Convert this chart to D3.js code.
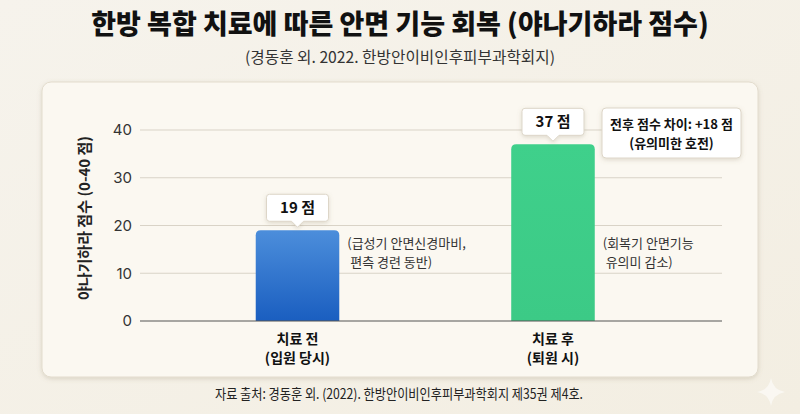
<!DOCTYPE html>
<html>
<head>
<meta charset="utf-8">
<script src="https://cdn.jsdelivr.net/npm/d3@7"></script>
<style>
  html, body { margin: 0; padding: 0; }
  body { width: 800px; height: 414px; overflow: hidden; font-family: "Noto Sans CJK KR", "Noto Sans", sans-serif; }
</style>
</head>
<body>
<div id="chart"></div>
<script>
// data
const categories = ["치료 전", "치료 후"];
const subLabels = ["(입원 당시)", "(퇴원 시)"];
const scores = [19, 37];
const valueLabels = ["19 점", "37 점"];
const notes = [["(급성기 안면신경마비,", " 편측 경련 동반)"], ["(회복기 안면기능", " 유의미 감소)"]];
const yTicks = [0, 10, 20, 30, 40];
const diffNote = ["전후 점수 차이: +18 점", "(유의미한 호전)"];

const W = 800, H = 414;
const svg = d3.select("#chart").append("svg").attr("width", W).attr("height", H);
const defs = svg.append("defs");

// background
const bg = defs.append("linearGradient").attr("id", "bg").attr("x1", 0).attr("y1", 0).attr("x2", 1).attr("y2", 1);
bg.append("stop").attr("offset", "0%").attr("stop-color", "#f6f3ec");
bg.append("stop").attr("offset", "100%").attr("stop-color", "#f3eee2");
svg.append("rect").attr("width", W).attr("height", H).attr("fill", "url(#bg)");

const blue = defs.append("linearGradient").attr("id", "blue").attr("x1", 0).attr("y1", 0).attr("x2", 0).attr("y2", 1);
blue.append("stop").attr("offset", "0%").attr("stop-color", "#4c8edb");
blue.append("stop").attr("offset", "100%").attr("stop-color", "#1a5ec0");
const green = defs.append("linearGradient").attr("id", "green").attr("x1", 0).attr("y1", 0).attr("x2", 0).attr("y2", 1);
green.append("stop").attr("offset", "0%").attr("stop-color", "#3fd08b");
green.append("stop").attr("offset", "100%").attr("stop-color", "#3cca86");

const shadow = defs.append("filter").attr("id", "shadow").attr("x", "-10%").attr("y", "-10%").attr("width", "120%").attr("height", "130%");
shadow.append("feDropShadow").attr("dx", 0).attr("dy", 1.5).attr("stdDeviation", 2).attr("flood-color", "#8a7a5a").attr("flood-opacity", 0.25);

// title
svg.append("text").attr("x", 400).attr("y", 34).attr("text-anchor", "middle")
  .attr("font-size", 27).attr("font-weight", 800).attr("fill", "#111")
  .text("한방 복합 치료에 따른 안면 기능 회복 (야나기하라 점수)");
svg.append("text").attr("x", 400).attr("y", 63).attr("text-anchor", "middle")
  .attr("font-size", 15.5).attr("fill", "#333")
  .attr("textLength", 310).attr("lengthAdjust", "spacingAndGlyphs")
  .text("(경동훈 외. 2022. 한방안이비인후피부과학회지)");

// panel
svg.append("rect").attr("x", 42).attr("y", 82).attr("width", 716).attr("height", 295).attr("rx", 9)
  .attr("fill", "#fbf8f1").attr("stroke", "#e3dccd").attr("stroke-width", 1).attr("filter", "url(#shadow)");

// scales
const y = d3.scaleLinear().domain([0, 40]).range([321, 130]);
const x = d3.scaleBand().domain(categories).range([140, 710.5]).paddingInner(0.673).paddingOuter(0.453);

const g = svg.append("g");

// grid
g.selectAll(".grid").data(yTicks.filter(d => d > 0)).join("line")
  .attr("x1", 140).attr("x2", 722)
  .attr("y1", d => y(d)).attr("y2", d => y(d))
  .attr("stroke", "#d9d3c7").attr("stroke-width", 1);

// y axis
const yAxis = g.append("g").attr("transform", "translate(140,0)")
  .call(d3.axisLeft(y).tickValues(yTicks).tickSize(0).tickPadding(8));
yAxis.select(".domain").remove();
yAxis.selectAll("text").attr("font-size", 15).attr("fill", "#333").attr("font-family", "Inter, 'Noto Sans', sans-serif");

svg.append("text").attr("transform", "translate(90,218) rotate(-90)").attr("text-anchor", "middle")
  .attr("font-size", 15).attr("font-weight", 600).attr("fill", "#222")
  .text("야나기하라 점수 (0-40 점)");

// bars with rounded top
function barPath(d, i) {
  const x0 = x(categories[i]), w = x.bandwidth(), y0 = y(d), y1 = y(0), r = 5;
  return `M${x0},${y1}V${y0 + r}Q${x0},${y0} ${x0 + r},${y0}H${x0 + w - r}Q${x0 + w},${y0} ${x0 + w},${y0 + r}V${y1}Z`;
}
g.selectAll(".bar").data(scores).join("path")
  .attr("d", barPath)
  .attr("fill", (d, i) => i === 0 ? "url(#blue)" : "url(#green)");

// baseline
g.append("line").attr("x1", 140).attr("x2", 722).attr("y1", y(0)).attr("y2", y(0))
  .attr("stroke", "#555").attr("stroke-width", 1.2);

// value callouts
const callout = g.selectAll(".callout").data(scores).join("g")
  .attr("transform", (d, i) => `translate(${x(categories[i]) + x.bandwidth() / 2},${y(d) - 9})`);
callout.append("path")
  .attr("d", "M-28,-27H28Q31,-27 31,-24V-3Q31,0 28,0H6L0,6L-6,0H-28Q-31,0 -31,-3V-24Q-31,-27 -28,-27Z")
  .attr("fill", "#fff").attr("stroke", "#ddd6c8").attr("stroke-width", 1).attr("filter", "url(#shadow)");
callout.append("text").attr("y", -8).attr("text-anchor", "middle")
  .attr("font-size", 15).attr("font-weight", 700).attr("fill", "#111")
  .text((d, i) => valueLabels[i]);

// side notes
categories.forEach((c, i) => {
  const t = g.append("text").attr("x", x(c) + x.bandwidth() + 8).attr("y", 248)
    .attr("font-size", 13).attr("fill", "#333").attr("xml:space", "preserve");
  t.append("tspan").attr("x", x(c) + x.bandwidth() + 8).text(notes[i][0]);
  t.append("tspan").attr("x", x(c) + x.bandwidth() + 8).attr("dy", 19).text(notes[i][1]);
});

// x labels
categories.forEach((c, i) => {
  const cx = x(c) + x.bandwidth() / 2;
  g.append("text").attr("x", cx).attr("y", 344).attr("text-anchor", "middle")
    .attr("font-size", 14).attr("font-weight", 700).attr("fill", "#111").text(c);
  g.append("text").attr("x", cx).attr("y", 363).attr("text-anchor", "middle")
    .attr("font-size", 14).attr("font-weight", 700).attr("fill", "#111").text(subLabels[i]);
});

// difference annotation
const ann = g.append("g").attr("transform", "translate(602,108)");
ann.append("rect").attr("width", 139).attr("height", 50).attr("rx", 4)
  .attr("fill", "#fff").attr("stroke", "#ddd6c8").attr("filter", "url(#shadow)");
ann.append("text").attr("x", 69.5).attr("y", 21).attr("text-anchor", "middle")
  .attr("font-size", 13).attr("font-weight", 700).attr("fill", "#111").text(diffNote[0]);
ann.append("text").attr("x", 69.5).attr("y", 40).attr("text-anchor", "middle")
  .attr("font-size", 13).attr("font-weight", 700).attr("fill", "#111").text(diffNote[1]);

// footer
svg.append("text").attr("x", 399).attr("y", 399).attr("text-anchor", "middle")
  .attr("font-size", 14).attr("fill", "#222")
  .attr("textLength", 368).attr("lengthAdjust", "spacingAndGlyphs")
  .text("자료 출처: 경동훈 외. (2022). 한방안이비인후피부과학회지 제35권 제4호.");

// sparkle
svg.append("path").attr("transform", "translate(771,392)")
  .attr("d", "M0,-14Q2,-2 14,0Q2,2 0,14Q-2,2 -14,0Q-2,-2 0,-14Z")
  .attr("fill", "#fff").attr("opacity", 0.55);
</script>
</body>
</html>
